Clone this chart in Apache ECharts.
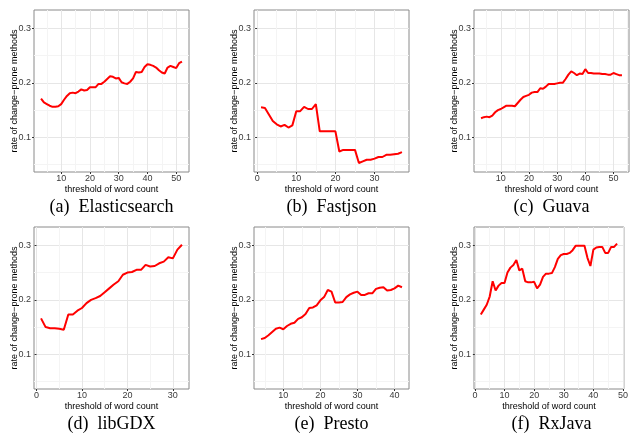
<!DOCTYPE html>
<html>
<head>
<meta charset="utf-8">
<title>change-prone methods</title>
<script src="https://cdn.jsdelivr.net/npm/echarts@6/dist/echarts.min.js"></script>
<style>
  html, body { margin: 0; padding: 0; background: #fff; }
  #chart { width: 631px; height: 434px; }
</style>
</head>
<body>
<div id="chart"></div>
<script>
'use strict';
// rate of change-prone methods vs threshold of word count, one panel per project

// --- data ---
var esThreshold = [3,4,5,6,7,8,9,10,11,12,13,14,15,16,17,18,19,20,21,22,23,24,25,26,27,28,29,30,31,32,33,34,35,36,37,38,39,40,41,42,43,44,45,46,47,48,49,50,51,52];
var esRate = [0.171,0.164,0.161,0.158,0.156,0.156,0.157,0.161,0.169,0.176,0.181,0.182,0.181,0.184,0.188,0.186,0.187,0.192,0.192,0.192,
  0.198,0.198,0.202,0.207,0.212,0.211,0.208,0.209,0.201,0.199,0.198,0.202,0.208,0.220,0.219,0.220,0.229,0.234,0.233,0.231,
  0.228,0.223,0.219,0.217,0.228,0.231,0.229,0.227,0.236,0.239];

var fastjsonThreshold = [1,2,3,4,5,6,7,8,9,10,11,12,13,14,15,16,17,18,19,20,21,22,23,24,25,26,27,28,29,30,31,32,33,34,35,36,37];
var fastjsonRate = [0.155,0.154,0.142,0.130,0.124,0.120,0.123,0.118,0.122,0.148,0.148,0.156,0.152,0.152,0.161,0.111,0.111,0.111,0.111,0.111,
  0.074,0.077,0.077,0.077,0.077,0.053,0.056,0.059,0.059,0.061,0.064,0.064,0.068,0.068,0.069,0.070,0.073];

var guavaThreshold = [3,4,5,6,7,8,9,10,11,12,13,14,15,16,17,18,19,20,21,22,23,24,25,26,27,28,29,30,31,32,33,34,35,36,37,38,39,40,41,42,43,44,45,46,47,48,49,50,51,52,53];
var guavaRate = [0.135,0.137,0.138,0.137,0.140,0.146,0.150,0.152,0.155,0.158,0.158,0.158,0.157,0.163,0.169,0.174,0.176,0.178,0.182,0.183,
  0.183,0.190,0.189,0.193,0.198,0.198,0.198,0.199,0.200,0.200,0.207,0.215,0.221,0.218,0.214,0.217,0.216,0.225,0.218,0.218,
  0.217,0.217,0.217,0.216,0.216,0.215,0.215,0.218,0.216,0.214,0.214];

var libgdxThreshold = [1,2,3,4,5,6,7,8,9,10,11,12,13,14,15,16,17,18,19,20,21,22,23,24,25,26,27,28,29,30,31,32];
var libgdxRate = [0.166,0.150,0.148,0.148,0.147,0.145,0.173,0.173,0.180,0.185,0.194,0.200,0.203,0.207,0.214,0.221,0.228,0.234,0.246,0.250,
  0.251,0.255,0.255,0.264,0.261,0.262,0.267,0.270,0.278,0.276,0.292,0.301];

var prestoThreshold = [4,5,6,7,8,9,10,11,12,13,14,15,16,17,18,19,20,21,22,23,24,25,26,27,28,29,30,31,32,33,34,35,36,37,38,39,40,41,42];
var prestoRate = [0.128,0.130,0.135,0.141,0.147,0.149,0.146,0.152,0.156,0.158,0.165,0.168,0.174,0.185,0.186,0.190,0.199,0.205,0.218,0.215,
  0.195,0.195,0.196,0.205,0.210,0.213,0.215,0.209,0.209,0.212,0.212,0.220,0.222,0.223,0.217,0.218,0.221,0.226,0.223];

var rxjavaThreshold = [2,3,4,5,6,7,8,9,10,11,12,13,14,15,16,17,18,19,20,21,22,23,24,25,26,27,28,29,30,31,32,33,34,35,36,37,38,39,40,41,42,43,44,45,46,47,48];
var rxjavaRate = [0.173,0.182,0.191,0.206,0.234,0.217,0.226,0.231,0.231,0.250,0.259,0.264,0.273,0.254,0.257,0.234,0.232,0.232,0.233,0.221,
  0.228,0.242,0.248,0.248,0.249,0.260,0.275,0.282,0.284,0.284,0.286,0.291,0.299,0.299,0.299,0.299,0.277,0.262,0.292,0.296,
  0.297,0.297,0.286,0.286,0.297,0.297,0.303];

// tick labels
var xTicks50 = [10, 20, 30, 40, 50];
var xMinor50 = [5, 15, 25, 35, 45, 55];
var xTicks0to30 = [0, 10, 20, 30];
var xMinor0to30 = [5, 15, 25, 35];
var xTicks10to40 = [10, 20, 30, 40];
var xMinor10to40 = [5, 15, 25, 35];
var xTicks0to50 = [0, 10, 20, 30, 40, 50];
var xMinor0to50 = [5, 15, 25, 35, 45];
var yTicks = [0.1, 0.2, 0.3];
var yMinor = [0.05, 0.15, 0.25];

var captions = ['(a)\u2002Elasticsearch', '(b)\u2002Fastjson', '(c)\u2002Guava', '(d)\u2002libGDX', '(e)\u2002Presto', '(f)\u2002RxJava'];

// --- layout ---
var W = 155, H = 162;
var panels = [
  { x: esThreshold,       y: esRate,       ticks: xTicks50,     minor: xMinor50,     min: 0.55, max: 54.45, left: 34,  top: 10 },
  { x: fastjsonThreshold, y: fastjsonRate, ticks: xTicks0to30,  minor: xMinor0to30,  min: -0.8, max: 38.8,  left: 254, top: 10 },
  { x: guavaThreshold,    y: guavaRate,    ticks: xTicks50,     minor: xMinor50,     min: 0.5,  max: 55.5,  left: 474, top: 10 },
  { x: libgdxThreshold,   y: libgdxRate,   ticks: xTicks0to30,  minor: xMinor0to30,  min: -0.55,max: 33.55, left: 34,  top: 227 },
  { x: prestoThreshold,   y: prestoRate,   ticks: xTicks10to40, minor: xMinor10to40, min: 2.1,  max: 43.9,  left: 254, top: 227 },
  { x: rxjavaThreshold,   y: rxjavaRate,   ticks: xTicks0to50,  minor: xMinor0to50,  min: -0.3, max: 50.3,  left: 474, top: 227 }
];
var yMin = 0.0365, yMax = 0.3335;

var sans = 'Liberation Sans, Arial, sans-serif';
var serif = 'Liberation Serif, Times New Roman, serif';

var grids = [], xAxes = [], yAxes = [], series = [], texts = [];

panels.forEach(function (p, i) {
  grids.push({
    left: p.left, top: p.top, width: W, height: H,
    show: true, borderColor: '#8a8a8a', borderWidth: 1, backgroundColor: '#fff'
  });

  // minor grid lines first (axis 2i), then major with labels (2i+1)
  xAxes.push({
    gridIndex: i, type: 'value', min: p.min, max: p.max, position: 'bottom',
    axisLine: { show: false },
    axisTick: { show: false, customValues: p.minor },
    axisLabel: { show: false, customValues: p.minor },
    splitLine: { show: true, lineStyle: { color: '#f4f4f4', width: 1 } }
  });
  xAxes.push({
    gridIndex: i, type: 'value', min: p.min, max: p.max, position: 'bottom',
    name: 'threshold of word count', nameLocation: 'middle', nameGap: 13, nameMoveOverlap: false,
    nameTextStyle: { fontSize: 9, color: '#000', fontFamily: sans },
    axisLine: { show: false },
    axisTick: { show: true, length: 2, customValues: p.ticks, lineStyle: { color: '#333' } },
    axisLabel: { customValues: p.ticks, fontSize: 9, color: '#3a3a3a', fontFamily: sans, margin: 2 },
    splitLine: { show: true, lineStyle: { color: '#e6e6e6', width: 1 } }
  });

  yAxes.push({
    gridIndex: i, type: 'value', min: yMin, max: yMax, position: 'left',
    axisLine: { show: false },
    axisTick: { show: false, customValues: yMinor },
    axisLabel: { show: false, customValues: yMinor },
    splitLine: { show: true, lineStyle: { color: '#f4f4f4', width: 1 } }
  });
  yAxes.push({
    gridIndex: i, type: 'value', min: yMin, max: yMax, position: 'left',
    name: 'rate of change\u2212prone methods', nameLocation: 'middle', nameGap: 15, nameMoveOverlap: false,
    nameTextStyle: { fontSize: 9, color: '#000', fontFamily: sans },
    axisLine: { show: false },
    axisTick: { show: true, length: 2, customValues: yTicks, lineStyle: { color: '#333' } },
    axisLabel: { customValues: yTicks, fontSize: 9, color: '#3a3a3a', fontFamily: sans, margin: 3,
      formatter: function (v) { return v.toFixed(1); } },
    splitLine: { show: true, lineStyle: { color: '#e6e6e6', width: 1 } }
  });

  series.push({
    type: 'line', xAxisIndex: 2 * i + 1, yAxisIndex: 2 * i + 1,
    data: p.x.map(function (t, k) { return [t, p.y[k]]; }),
    showSymbol: false, smooth: false, silent: true,
    lineStyle: { color: '#ff0000', width: 2 }
  });

  // caption under each panel
  texts.push({
    type: 'text',
    x: p.left + W / 2, y: p.top + H + 35,
    style: { text: captions[i], font: '18px ' + serif, fill: '#000', align: 'center', verticalAlign: 'middle' }
  });
});

var chart = echarts.init(document.getElementById('chart'), null, { renderer: 'canvas' });
chart.setOption({
  animation: false,
  backgroundColor: '#fff',
  grid: grids,
  xAxis: xAxes,
  yAxis: yAxes,
  series: series,
  graphic: texts
});
</script>
</body>
</html>
